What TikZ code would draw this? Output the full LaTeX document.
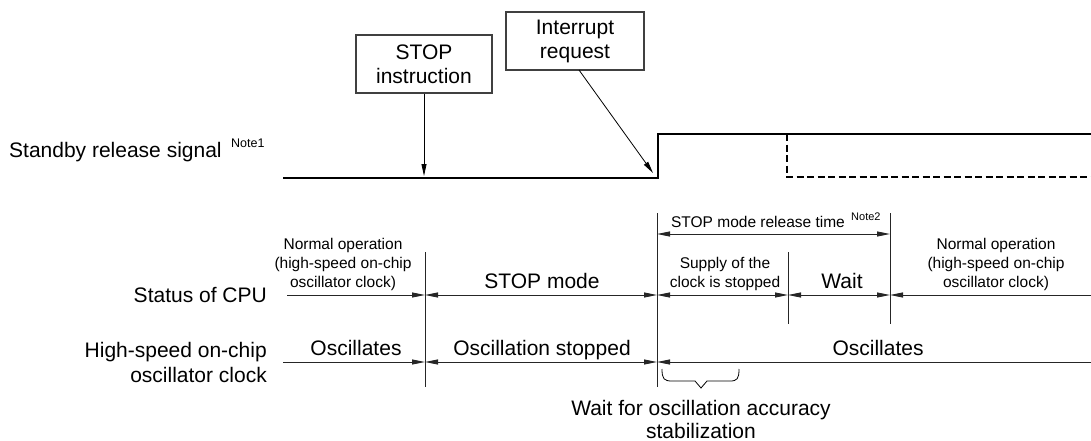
\documentclass[tikz,border=0pt]{standalone}
\usepackage{fontspec}
\setmainfont{Liberation Sans}
\usetikzlibrary{arrows.meta}
\tikzset{
  x=1pt, y=-1pt,
  big/.style={font=\fontsize{21}{25}\selectfont, inner sep=0pt},
  small/.style={font=\fontsize{15.5}{19}\selectfont, inner sep=0pt, align=center},
  notetxt/.style={font=\fontsize{12.5}{14}\selectfont, inner sep=0pt},
  callout/.style={draw=black!75, line width=1.2pt, font=\fontsize{21}{24}\selectfont, align=center, inner sep=0pt, minimum width=136pt, minimum height=58pt},
  signal/.style={line width=1.8pt, line join=miter},
  dsignal/.style={line width=2.3pt, dash pattern=on 7pt off 3.5pt},
  thin/.style={line width=0.9pt, black!85},
  tip/.style={-{Triangle[length=13pt,width=5pt]}},
  tips/.style={{Triangle[length=13pt,width=5pt]}-{Triangle[length=13pt,width=5pt]}},
  ptr/.style={line width=0.8pt, -{Triangle[length=12pt,width=5pt]}},
}
\begin{document}
\begin{tikzpicture}
\useasboundingbox (0,0) rectangle (1091,441);

% row labels
\node[big, anchor=base west] (lsig) at (9,157) {Standby release signal};
\node[notetxt, anchor=base west] (n1) at (231,147) {Note1};
\node[big, anchor=base east] (lcpu) at (267,302) {Status of CPU};
\node[big, anchor=east, align=right] (losc) at (267,362) {High-speed on-chip\\oscillator clock};

% callout boxes
\node[callout] (stopbox) at (424,64) {STOP\\instruction};
\node[callout, minimum width=138pt] (intbox) at (575,41) {Interrupt\\request};

% signal coordinates
\coordinate (s0) at (283,178);
\coordinate (s1) at (658,178);
\coordinate (s2) at (658,134);
\coordinate (s3) at (1091,134);
\coordinate (d0) at (787,134);
\coordinate (d1) at (787,177);
\coordinate (d2) at (1091,177);
\draw[signal] (s0) -- (s1) -- (s2) -- (s3);
\draw[dsignal] (d0) -- (d1) -- (d2);

% callout arrows
\coordinate (stoptip) at (424,176);
\coordinate (inttip) at (653,173);
\coordinate (intstart) at (579,70);
\draw[ptr] (stopbox.south) -- (stoptip);
\draw[ptr] (intstart) -- (inttip);

% vertical markers
\coordinate (v1t) at (425,252); \coordinate (v1b) at (425,387);
\coordinate (v2t) at (657,213); \coordinate (v2b) at (657,387);
\coordinate (v3t) at (788,252); \coordinate (v3b) at (788,324);
\coordinate (v4t) at (890,213); \coordinate (v4b) at (890,324);
\draw[thin] (v1t) -- (v1b);
\draw[thin] (v2t) -- (v2b);
\draw[thin] (v3t) -- (v3b);
\draw[thin] (v4t) -- (v4b);

% release time
\coordinate (r0) at (657,234); \coordinate (r1) at (890,234);
\draw[thin, tips] (r0) -- (r1);
\node[small, anchor=base] (rtime) at (758,227) {STOP mode release time};
\node[font=\fontsize{11}{12}\selectfont, inner sep=0pt, anchor=base west] (n2) at (851,220) {Note2};

% CPU status row
\coordinate (c0) at (287,295); \coordinate (c1) at (425,295);
\coordinate (c2) at (657,295); \coordinate (c3) at (788,295);
\coordinate (c4) at (890,295); \coordinate (c5) at (1091,295);
\draw[thin, tip] (c0) -- (c1);
\draw[thin, tips] (c1) -- (c2);
\draw[thin, tips] (c2) -- (c3);
\draw[thin, tips] (c3) -- (c4);
\draw[thin, tip] (c5) -- (c4);
\node[small] (norm1) at (343,264) {Normal operation\\(high-speed on-chip\\oscillator clock)};
\node[big, anchor=base] (stopmode) at (542,288) {STOP mode};
\node[small] (supply) at (725,273.5) {Supply of the\\clock is stopped};
\node[big, anchor=base] (wait) at (842,288) {Wait};
\node[small] (norm2) at (996,264) {Normal operation\\(high-speed on-chip\\oscillator clock)};

% oscillator row
\coordinate (o0) at (283,362); \coordinate (o1) at (425,362);
\coordinate (o2) at (657,362); \coordinate (o3) at (1091,362);
\draw[thin, tip] (o0) -- (o1);
\draw[thin, tips] (o1) -- (o2);
\draw[thin, tip] (o3) -- (o2);
\node[big, anchor=base] (osc1) at (356,355) {Oscillates};
\node[big, anchor=base] (oscst) at (542,355) {Oscillation stopped};
\node[big, anchor=base] (osc2) at (878,355) {Oscillates};

% brace
\draw[line width=0.8pt] (662,369) .. controls (662,379) and (664,381) .. (672,381)
  -- (695,381) -- (701,388) -- (707,381) -- (730,381)
  .. controls (737,381) and (739,379) .. (739,369);
\node[big, align=center, font=\fontsize{21}{23}\selectfont] (waitosc) at (701,419) {Wait for oscillation accuracy\\stabilization};
\end{tikzpicture}
\end{document}
